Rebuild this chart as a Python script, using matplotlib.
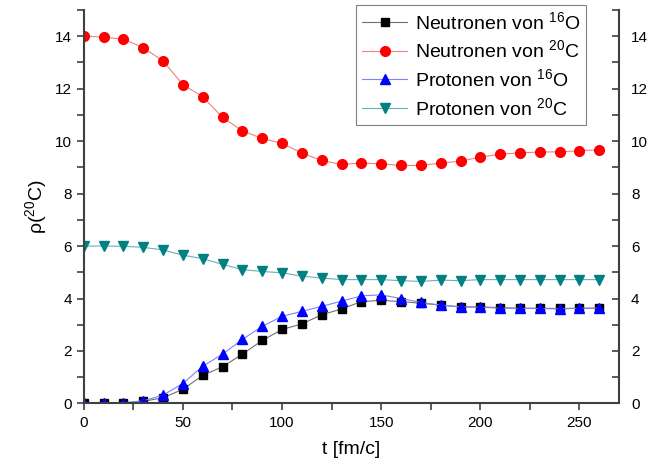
import numpy as np
import matplotlib
matplotlib.use('Agg')
import matplotlib.pyplot as plt
from matplotlib.ticker import MultipleLocator

plt.rcParams['font.family'] = ['Liberation Sans', 'DejaVu Sans']
plt.rcParams['mathtext.fontset'] = 'custom'
plt.rcParams['mathtext.rm'] = 'Liberation Sans'
plt.rcParams['mathtext.it'] = 'Liberation Sans:italic'

t = [0, 10, 20, 30, 40, 50, 60, 70, 80, 90, 100, 110, 120, 130,
     140, 150, 160, 170, 180, 190, 200, 210, 220, 230, 240, 250, 260]

neutronen_o16 = [0.0, 0.02, 0.02, 0.08, 0.22, 0.54, 1.07, 1.4, 1.88, 2.4, 2.82, 3.03, 3.38, 3.6,
                 3.88, 3.93, 3.88, 3.82, 3.75, 3.68, 3.68, 3.65, 3.63, 3.63, 3.62, 3.63, 3.63]
neutronen_c20 = [14.0, 13.96, 13.88, 13.56, 13.05, 12.15, 11.69, 10.9, 10.39, 10.1, 9.91, 9.54, 9.26, 9.11,
                 9.16, 9.13, 9.07, 9.07, 9.16, 9.23, 9.39, 9.5, 9.55, 9.58, 9.59, 9.63, 9.67]
protonen_o16 = [0.02, 0.03, 0.03, 0.1, 0.32, 0.76, 1.42, 1.88, 2.44, 2.94, 3.32, 3.51, 3.7, 3.9,
                4.1, 4.14, 4.0, 3.85, 3.75, 3.68, 3.67, 3.63, 3.62, 3.62, 3.6, 3.63, 3.63]
protonen_c20 = [6.0, 6.0, 5.99, 5.95, 5.85, 5.65, 5.52, 5.3, 5.1, 5.03, 4.98, 4.85, 4.78, 4.72,
                4.72, 4.72, 4.68, 4.65, 4.7, 4.68, 4.72, 4.72, 4.72, 4.72, 4.72, 4.72, 4.72]

fig = plt.figure(figsize=(6.49, 4.67), dpi=100)
ax = fig.add_axes([0.129, 0.136, 0.825, 0.843])

ax.plot(t, neutronen_o16, color='#707070', lw=0.8, marker='s', ms=5.5,
        mfc='black', mec='black', label=r'Neutronen von $^{16}$O')
ax.plot(t, neutronen_c20, color='#f08080', lw=0.8, marker='o', ms=7,
        mfc='#ff0000', mec='#ff0000', label=r'Neutronen von $^{20}$C')
ax.plot(t, protonen_o16, color='#8080ff', lw=0.8, marker='^', ms=7.5,
        mfc='#0000ff', mec='#0000ff', label=r'Protonen von $^{16}$O')
ax.plot(t, protonen_c20, color='#66b3b3', lw=0.8, marker='v', ms=7.5,
        mfc='#008080', mec='#008080', label=r'Protonen von $^{20}$C')

ax.set_xlim(0, 270)
ax.set_ylim(0, 15)
ax.xaxis.set_major_locator(MultipleLocator(50))
ax.xaxis.set_minor_locator(MultipleLocator(25))
ax.yaxis.set_major_locator(MultipleLocator(2))
ax.yaxis.set_minor_locator(MultipleLocator(1))

spine_col = '#404040'
ax.spines['top'].set_visible(False)
for s in ['left', 'right', 'bottom']:
    ax.spines[s].set_color(spine_col)
    ax.spines[s].set_linewidth(1.5)

ax.tick_params(axis='x', which='both', direction='out', color=spine_col, width=1.2,
               labelsize=11, length=5, pad=4)
ax.tick_params(axis='y', which='both', direction='out', color=spine_col, width=1.2,
               labelsize=11, right=True, labelright=True, length=5)

# right axis ticks point inward
for tk in ax.yaxis.get_major_ticks() + ax.yaxis.get_minor_ticks():
    tk.tick2line.set_marker(matplotlib.lines.TICKLEFT)

ax.set_xlabel('t [fm/c]', fontsize=14, labelpad=8)
ax.set_ylabel('ρ($^{20}$C)', fontsize=14, labelpad=4)

leg = ax.legend(loc='upper right', bbox_to_anchor=(0.938, 1.012), fontsize=14,
                fancybox=False, edgecolor='#808080', framealpha=1,
                handlelength=2.3, labelspacing=0.35, borderpad=0.3, handletextpad=0.4,
                borderaxespad=0)
leg.get_frame().set_linewidth(0.8)

fig.savefig('out.png', dpi=100)
